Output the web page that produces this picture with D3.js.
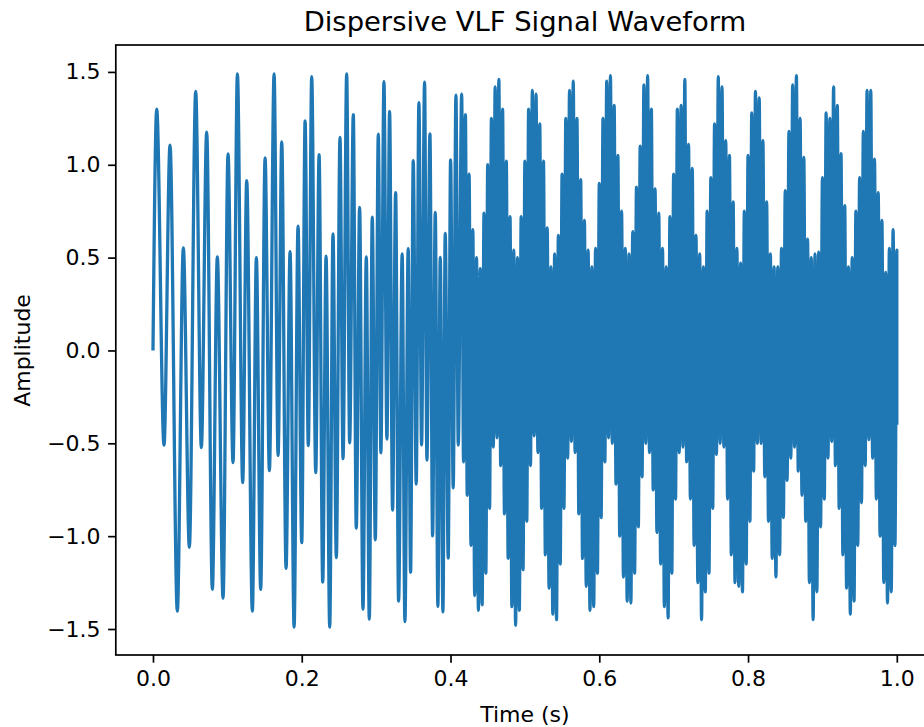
<!DOCTYPE html>
<html>
<head>
<meta charset="utf-8">
<script src="https://cdn.jsdelivr.net/npm/d3@7"></script>
<style>
  body { margin: 0; background: #fff; }
  text { font-family: "DejaVu Sans", sans-serif; fill: #000; }
</style>
</head>
<body>
<script>
// extrema of the trace where it can still be followed by eye (t in s, amplitude)
const peakT = [0, 0.005, 0.0148, 0.0229, 0.0327, 0.0408, 0.0489, 0.0574, 0.065, 0.0722,
  0.0798, 0.0865, 0.0942, 0.1009, 0.1076, 0.1135, 0.1206, 0.126, 0.1336, 0.139,
  0.1448, 0.1507, 0.1565, 0.1628, 0.1682, 0.1731, 0.1789, 0.1843, 0.1897, 0.195,
  0.2, 0.2045, 0.2088, 0.2134, 0.2188, 0.2233, 0.2282, 0.2327, 0.2376, 0.242,
  0.2465, 0.2514, 0.2555, 0.2604, 0.2644, 0.2693, 0.2733, 0.2778, 0.2823, 0.2868,
  0.2908, 0.2948, 0.2989, 0.3029, 0.3064, 0.3105, 0.3145, 0.3181, 0.3221, 0.3262,
  0.3302, 0.335, 0.3387, 0.3431, 0.3463, 0.3499, 0.3539, 0.3575, 0.3611, 0.3651,
  0.3683, 0.3723, 0.3759, 0.3795, 0.383, 0.3862, 0.3898, 0.3929, 0.3969, 0.4001,
  0.4036, 0.4073, 0.4104]
const peakV = [0, 1.30, -0.51, 1.106, -1.404, 0.553, -1.06, 1.395, -0.523, 1.176,
  -1.287, 0.504, -1.334, 1.059, -0.604, 1.49, -0.711, 0.914, -1.404, 0.50,
  -1.287, 1.037, -0.647, 1.49, -0.566, 1.123, -1.174, 0.532, -1.49, 0.67,
  -1.035, 1.236, -0.513, 1.474, -0.658, 1.054, -1.248, 0.508, -1.49, 0.628,
  -1.116, 1.148, -0.583, 1.49, -0.498, 1.27, -0.956, 0.771, -1.393, 0.504,
  -1.447, 0.718, -1.02, 1.165, -0.551, 1.447, -0.477, 1.287, -0.86, 0.85,
  -1.35, 0.52, -1.46, 0.548, -1.195, 1.022, -0.719, 1.335, -0.509, 1.445,
  -0.59, 1.166, -0.998, 0.743, -1.378, 0.501, -1.408, 0.631, -1.118, 1.026,
  -0.74, 1.375, -0.509]

// dense part: top and bottom of the band, read every 5 ms from 0.415 s
const denseStart = 0.415
const denseStep = 0.005
const denseHi = [1.38, 1.27, 0.95, 0.65, 0.50, 0.44, 0.74, 1.00, 1.25, 1.42,
  1.46, 1.30, 1.02, 0.72, 0.54, 0.50, 0.72, 1.02, 1.30, 1.40,
  1.38, 1.22, 1.02, 0.66, 0.45, 0.52, 0.62, 0.95, 1.25, 1.40,
  1.45, 1.25, 0.92, 0.70, 0.54, 0.45, 0.55, 0.90, 1.25, 1.45,
  1.48, 1.32, 1.05, 0.75, 0.55, 0.52, 0.64, 0.88, 1.10, 1.43,
  1.48, 1.30, 0.87, 0.74, 0.55, 0.45, 0.72, 0.95, 1.30, 1.32,
  1.46, 1.11, 0.98, 0.62, 0.52, 0.45, 0.75, 0.93, 1.22, 1.475,
  1.42, 1.13, 1.05, 0.80, 0.55, 0.47, 0.75, 1.05, 1.28, 1.395,
  1.36, 1.13, 0.80, 0.52, 0.45, 0.45, 0.55, 0.86, 1.18, 1.43,
  1.48, 1.25, 1.04, 0.60, 0.50, 0.52, 0.53, 0.93, 1.28, 1.25,
  1.42, 1.32, 1.06, 0.78, 0.45, 0.50, 0.75, 0.93, 1.18, 1.40,
  1.40, 1.03, 0.85, 0.70, 0.42, 0.55, 0.65, 0.54]
const denseLo = [-0.60, -0.78, -1.05, -1.32, -1.40, -1.37, -1.20, -0.85, -0.52, -0.47,
  -0.62, -0.88, -1.12, -1.38, -1.48, -1.40, -1.18, -0.92, -0.62, -0.46,
  -0.55, -0.85, -1.10, -1.28, -1.42, -1.45, -1.15, -0.85, -0.58, -0.49,
  -0.55, -0.88, -1.12, -1.27, -1.40, -1.38, -1.20, -0.90, -0.60, -0.47,
  -0.50, -0.72, -1.00, -1.22, -1.35, -1.36, -1.20, -0.95, -0.68, -0.50,
  -0.55, -0.75, -0.98, -1.15, -1.38, -1.44, -1.20, -0.80, -0.55, -0.52,
  -0.60, -0.80, -1.05, -1.25, -1.45, -1.30, -1.20, -0.85, -0.56, -0.50,
  -0.52, -0.80, -1.10, -1.25, -1.27, -1.30, -1.15, -0.92, -0.65, -0.50,
  -0.50, -0.68, -0.92, -1.12, -1.22, -1.10, -0.90, -0.70, -0.58, -0.52,
  -0.65, -0.78, -0.92, -1.25, -1.45, -1.30, -0.95, -0.80, -0.58, -0.49,
  -0.62, -0.85, -1.10, -1.28, -1.42, -1.35, -1.05, -0.82, -0.62, -0.48,
  -0.58, -0.80, -1.00, -1.25, -1.36, -1.30, -1.05, -0.40]

const xTicks = [0, 0.2, 0.4, 0.6, 0.8, 1.0]
const yTicks = [-1.5, -1.0, -0.5, 0, 0.5, 1.0, 1.5]

const width = 924, height = 727
const margin = {top: 45, right: -10, bottom: 72, left: 115.8}

// build the trace
let data = peakT.map((t, i) => ({t: t, v: peakV[i]}))
denseHi.forEach((h, i) => {
  let t = denseStart + i * denseStep
  data.push({t: t, v: h})
  data.push({t: Math.min(t + denseStep / 2, 1), v: denseLo[i]})
})

const x = d3.scaleLinear()
  .domain([-0.05, 1.05])
  .range([margin.left, width - margin.right])
const y = d3.scaleLinear()
  .domain([-1.64, 1.645])
  .range([height - margin.bottom, margin.top])

const fmt = d => d3.format(".1f")(d).replace("-", "\u2212")

const svg = d3.select("body").append("svg")
  .attr("width", width)
  .attr("height", height)
  .attr("viewBox", [0, 0, width, height])

svg.append("rect").attr("width", width).attr("height", height).attr("fill", "#fff")

svg.append("path")
  .datum(data)
  .attr("fill", "none")
  .attr("stroke", "#1f77b4")
  .attr("stroke-width", 3.3)
  .attr("stroke-linejoin", "round")
  .attr("d", d3.line().x(d => x(d.t)).y(d => y(d.v)).curve(d3.curveMonotoneX))

// axes
const gx = svg.append("g")
  .attr("transform", "translate(0," + (height - margin.bottom) + ")")
  .call(d3.axisBottom(x).tickValues(xTicks).tickFormat(fmt).tickSize(7.7).tickPadding(7.5))
const gy = svg.append("g")
  .attr("transform", "translate(" + margin.left + ",0)")
  .call(d3.axisLeft(y).tickValues(yTicks).tickFormat(fmt).tickSize(7.7).tickPadding(7.5))

svg.selectAll(".domain").remove()
svg.selectAll(".tick line").attr("stroke", "#000").attr("stroke-width", 1.7)
svg.selectAll(".tick text").attr("font-size", 22).attr("font-family", "DejaVu Sans").attr("fill", "#000")

// frame
svg.append("rect")
  .attr("x", margin.left)
  .attr("y", margin.top)
  .attr("width", width - margin.right - margin.left)
  .attr("height", height - margin.bottom - margin.top)
  .attr("fill", "none")
  .attr("stroke", "#000")
  .attr("stroke-width", 1.7)

svg.append("text")
  .attr("x", (x(-0.05) + x(1.05)) / 2)
  .attr("y", 31)
  .attr("text-anchor", "middle")
  .attr("font-size", 27.4)
  .text("Dispersive VLF Signal Waveform")

svg.append("text")
  .attr("x", (x(-0.05) + x(1.05)) / 2)
  .attr("y", 722)
  .attr("text-anchor", "middle")
  .attr("font-size", 22)
  .text("Time (s)")

svg.append("text")
  .attr("transform", "translate(30," + y(0) + ") rotate(-90)")
  .attr("text-anchor", "middle")
  .attr("font-size", 22)
  .text("Amplitude")
</script>
</body>
</html>
